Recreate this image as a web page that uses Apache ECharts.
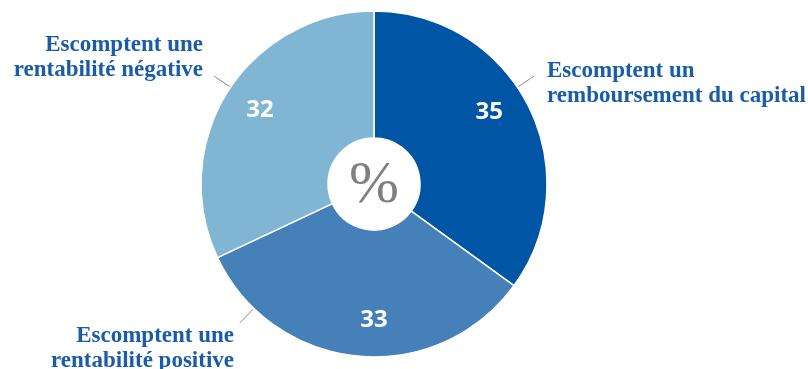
<!DOCTYPE html>
<html>
<head>
<meta charset="utf-8">
<script src="https://cdn.jsdelivr.net/npm/echarts@6/dist/echarts.min.js"></script>
<style>
  html, body { margin: 0; padding: 0; background: #fff; }
  #chart { width: 808px; height: 369px; }
</style>
</head>
<body>
<div id="chart"></div>
<script>
// Share of respondents by expected outcome (%)
const categories = [
  'Escomptent un\nremboursement du capital',
  'Escomptent une\nrentabilité positive',
  'Escomptent une\nrentabilité négative'
];
const values = [35, 33, 32];
const sliceColors = ['#0055a5', '#4680b8', '#80b6d4'];

// Placement of the descriptive labels: leader-line angle (deg, clockwise from top),
// text anchor and alignment; and the angle at which each value sits in its slice
const labelPlacement = [
  { angle: 56, x: 547, y: 84, align: 'left', valueAngle: 58 },
  { angle: 224, x: 234, y: 349, align: 'right', valueAngle: 180 },
  { angle: 304, x: 203, y: 58, align: 'right', valueAngle: 303 }
];

const cx = 374, cy = 184, rIn = 46, rOut = 173, rValue = 136;

function polar(angleDeg, r) {
  const a = angleDeg * Math.PI / 180;
  return [cx + Math.sin(a) * r, cy - Math.cos(a) * r];
}

const chart = echarts.init(document.getElementById('chart'), null, { renderer: 'canvas' });

const pieBase = {
  type: 'pie',
  center: [cx, cy],
  radius: [rIn, rOut],
  startAngle: 90,
  clockwise: true,
  silent: true,
  animation: false
};

chart.setOption({
  backgroundColor: '#ffffff',
  series: [
    Object.assign({}, pieBase, {
      name: 'values',
      itemStyle: { borderColor: '#ffffff', borderWidth: 1.5 },
      label: {
        show: true,
        position: 'inside',
        formatter: '{c}',
        color: '#ffffff',
        fontFamily: 'Open Sans',
        fontWeight: 'bold',
        fontSize: 24
      },
      labelLine: { show: false },
      labelLayout: function (p) {
        const pt = polar(labelPlacement[p.dataIndex].valueAngle, rValue);
        return { x: pt[0], y: pt[1], align: 'center', verticalAlign: 'middle' };
      },
      data: values.map((v, i) => ({
        value: v,
        name: categories[i],
        itemStyle: { color: sliceColors[i] }
      }))
    }),
    Object.assign({}, pieBase, {
      name: 'captions',
      itemStyle: { color: 'transparent' },
      label: {
        show: true,
        position: 'outside',
        formatter: '{b}',
        color: '#1a5ca8',
        fontFamily: 'Liberation Serif',
        fontWeight: 'bold',
        fontSize: 23,
        lineHeight: 25,
        overflow: 'none',
        edgeDistance: 0
      },
      labelLine: {
        show: true,
        length: 18,
        length2: 0,
        lineStyle: { color: '#8a8a8a', width: 1 }
      },
      labelLayout: function (p) {
        const pl = labelPlacement[p.dataIndex];
        const p0 = polar(pl.angle, rOut + 1);
        const p1 = polar(pl.angle, rOut + 20);
        return {
          x: pl.x,
          y: pl.y,
          align: pl.align,
          verticalAlign: 'middle',
          labelLinePoints: [p0, p1, p1]
        };
      },
      data: values.map((v, i) => ({ value: v, name: categories[i] }))
    })
  ],
  graphic: [{
    type: 'text',
    x: cx,
    y: cy + 2,
    style: {
      text: '%',
      fill: '#7f7f7f',
      font: '60px "Liberation Serif"',
      align: 'center',
      verticalAlign: 'middle'
    }
  }]
});
</script>
</body>
</html>
